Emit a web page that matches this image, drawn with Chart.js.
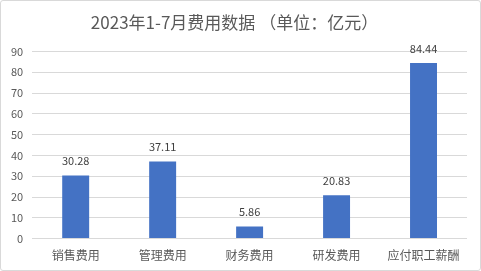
<!DOCTYPE html>
<html>
<head>
<meta charset="utf-8">
<script src="https://cdn.jsdelivr.net/npm/chart.js@4/dist/chart.umd.min.js"></script>
<style>
  html, body { margin: 0; padding: 0; background: #fff; }
  #wrap { position: relative; width: 481px; height: 271px; box-sizing: border-box; border: 1px solid #d9d9d9; border-radius: 3px; }
  canvas { display: block; }
</style>
</head>
<body>
<div id="wrap"><canvas id="my-chart"></canvas></div>
<script>
const titleText = '2023年1-7月费用数据 （单位：亿元）';
const categories = ['销售费用', '管理费用', '财务费用', '研发费用', '应付职工薪酬'];
const costValues = [30.28, 37.11, 5.86, 20.83, 84.44];
const yTicks = [0, 10, 20, 30, 40, 50, 60, 70, 80, 90];

const fontFamily = '"Noto Sans CJK SC", "Microsoft YaHei", sans-serif';

// draws the value above each bar
const valueLabels = {
  id: 'valueLabels',
  afterDatasetsDraw(chart) {
    const ctx = chart.ctx;
    const meta = chart.getDatasetMeta(0);
    ctx.save();
    ctx.font = '11px ' + fontFamily;
    ctx.fillStyle = '#404040';
    ctx.textAlign = 'center';
    ctx.textBaseline = 'bottom';
    meta.data.forEach((bar, i) => {
      ctx.fillText(costValues[i].toFixed(2), bar.x, bar.y - 9);
    });
    ctx.restore();
  }
};

const ctx = document.getElementById('my-chart').getContext('2d');
const chart = new Chart(ctx, {
  type: 'bar',
  data: {
    labels: categories,
    datasets: [
      {
        label: '费用',
        backgroundColor: '#4472c4',
        data: costValues,
        categoryPercentage: 1,
        barPercentage: 0.31
      }
    ]
  },
  options: {
    responsive: true,
    maintainAspectRatio: false,
    animation: false,
    layout: { padding: { left: 1, right: 13, top: 0, bottom: 5 } },
    plugins: {
      legend: { display: false },
      tooltip: { enabled: false },
      title: {
        display: true,
        text: titleText,
        color: '#595959',
        font: { family: fontFamily, size: 17, weight: 'normal' },
        padding: { top: 11, bottom: 19 }
      }
    },
    scales: {
      x: {
        grid: { display: false },
        border: { display: false },
        ticks: { color: '#595959', font: { family: fontFamily, size: 12 }, padding: 2 }
      },
      y: {
        min: 0,
        max: 90,
        afterBuildTicks: axis => { axis.ticks = yTicks.map(v => ({ value: v })); },
        grid: { color: '#d9d9d9', drawTicks: false },
        border: { display: false },
        ticks: { color: '#595959', font: { family: fontFamily, size: 11 }, padding: 9 }
      }
    }
  },
  plugins: [valueLabels]
});
</script>
</body>
</html>
